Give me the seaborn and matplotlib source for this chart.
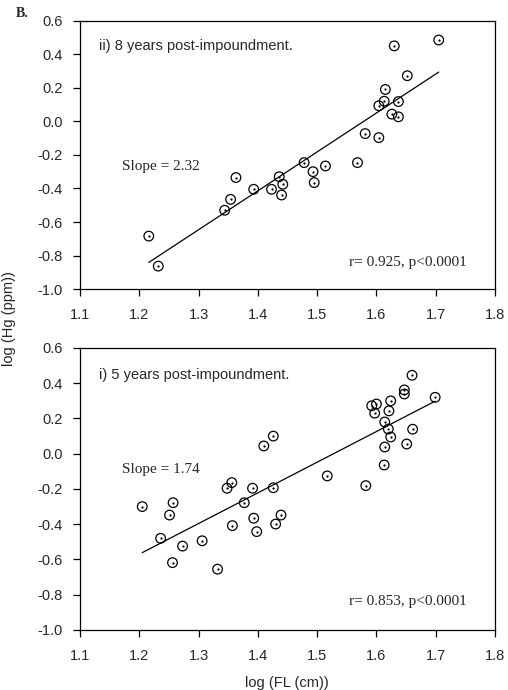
import numpy as np
import pandas as pd
import matplotlib
matplotlib.use("Agg")
import matplotlib.pyplot as plt
import seaborn as sns

# ii) 8 years post-impoundment
fl_8yr = [1.216, 1.232, 1.344, 1.354, 1.363, 1.393, 1.423, 1.436, 1.442, 1.440,
          1.478, 1.493, 1.495, 1.514, 1.568, 1.581, 1.604, 1.604, 1.613, 1.615,
          1.637, 1.626, 1.637, 1.652, 1.630, 1.705]
hg_8yr = [-0.684, -0.863, -0.530, -0.465, -0.335, -0.405, -0.405, -0.330, -0.375, -0.439,
          -0.246, -0.300, -0.365, -0.266, -0.246, -0.073, -0.097, 0.093, 0.120, 0.190,
          0.118, 0.043, 0.027, 0.272, 0.450, 0.485]
slope_8yr = 2.32
intercept_8yr = -3.662

# i) 5 years post-impoundment
fl_5yr = [1.660, 1.647, 1.647, 1.699, 1.624, 1.600, 1.592, 1.597, 1.621, 1.614,
          1.620, 1.624, 1.661, 1.651, 1.614, 1.613, 1.582, 1.517, 1.426, 1.410,
          1.356, 1.348, 1.391, 1.426, 1.377, 1.205, 1.257, 1.251, 1.236, 1.273,
          1.306, 1.256, 1.332, 1.357, 1.393, 1.398, 1.430, 1.439]
hg_5yr = [0.445, 0.362, 0.339, 0.320, 0.300, 0.282, 0.272, 0.230, 0.243, 0.180,
          0.140, 0.095, 0.139, 0.055, 0.038, -0.064, -0.181, -0.126, 0.100, 0.044,
          -0.164, -0.196, -0.196, -0.193, -0.278, -0.300, -0.278, -0.348, -0.480, -0.524,
          -0.494, -0.618, -0.655, -0.408, -0.366, -0.442, -0.399, -0.348]
slope_5yr = 1.74
intercept_5yr = -2.658

x_ticks = [1.1, 1.2, 1.3, 1.4, 1.5, 1.6, 1.7, 1.8]
y_ticks = [-1.0, -0.8, -0.6, -0.4, -0.2, 0.0, 0.2, 0.4, 0.6]

panels = [
    dict(fl=fl_8yr, hg=hg_8yr, slope=slope_8yr, icpt=intercept_8yr,
         title="ii) 8 years post-impoundment.", title_y=0.45,
         slope_txt="Slope = 2.32", slope_y=-0.27,
         stat_txt="r= 0.925, p<0.0001", stat_y=-0.84,
         rect=[0.1575, 0.581, 0.817, 0.389]),
    dict(fl=fl_5yr, hg=hg_5yr, slope=slope_5yr, icpt=intercept_5yr,
         title="i) 5 years post-impoundment.", title_y=0.445,
         slope_txt="Slope = 1.74", slope_y=-0.092,
         stat_txt="r= 0.853, p<0.0001", stat_y=-0.84,
         rect=[0.1575, 0.087, 0.817, 0.4087]),
]

sns.set_style("ticks")
plt.rcParams["font.family"] = ["Liberation Sans", "DejaVu Sans"]
plt.rcParams["axes.linewidth"] = 0.9

fig = plt.figure(figsize=(5.08, 6.90), dpi=100)

for p in panels:
    ax = fig.add_axes(p["rect"])
    df = pd.DataFrame({"fl": p["fl"], "hg": p["hg"]})
    # open circles with a small centre dot
    sns.scatterplot(data=df, x="fl", y="hg", ax=ax, marker="o", s=48,
                    facecolor="none", edgecolor="black", linewidth=0.9, zorder=3)
    sns.scatterplot(data=df, x="fl", y="hg", ax=ax, marker="o", s=1.5,
                    color="black", edgecolor="black", linewidth=0.3, zorder=4)
    # fitted regression line across the data range
    x_line = np.array([min(p["fl"]), max(p["fl"])])
    sns.lineplot(x=x_line, y=p["slope"] * x_line + p["icpt"], ax=ax,
                 color="black", linewidth=0.9, zorder=2)

    ax.set_xlim(1.1, 1.8)
    ax.set_ylim(-1.0, 0.6)
    ax.set_xticks(x_ticks)
    ax.set_yticks(y_ticks)
    ax.set_xticklabels([f"{t:.1f}" for t in x_ticks], fontsize=10.5)
    ax.set_yticklabels([f"{t:.1f}" for t in y_ticks], fontsize=10.5)
    ax.tick_params(direction="out", length=5, width=0.9, color="black")
    ax.tick_params(axis="x", pad=8.5)
    ax.tick_params(axis="y", pad=7.5)
    ax.set_xlabel("")
    ax.set_ylabel("")
    for sp in ax.spines.values():
        sp.set_visible(True)
        sp.set_color("black")

    ax.text(1.132, p["title_y"], p["title"], fontsize=10.5, va="center", ha="left")
    ax.text(1.171, p["slope_y"], p["slope_txt"], fontsize=11, va="center", ha="left",
            family=["Liberation Serif", "DejaVu Serif"])
    ax.text(1.553, p["stat_y"], p["stat_txt"], fontsize=11, va="center", ha="left",
            family=["Liberation Serif", "DejaVu Serif"])

fig.text(0.5655, 0.010, "log (FL (cm))", ha="center", va="center", fontsize=10.5)
fig.text(0.018, 0.539, "log (Hg (ppm))", ha="center", va="center", rotation=90, fontsize=10.5)
fig.text(0.043, 0.981, "B.", ha="center", va="center", fontsize=10, fontweight="bold",
         family=["Liberation Serif", "DejaVu Serif"])

fig.savefig("out.png", dpi=100)
